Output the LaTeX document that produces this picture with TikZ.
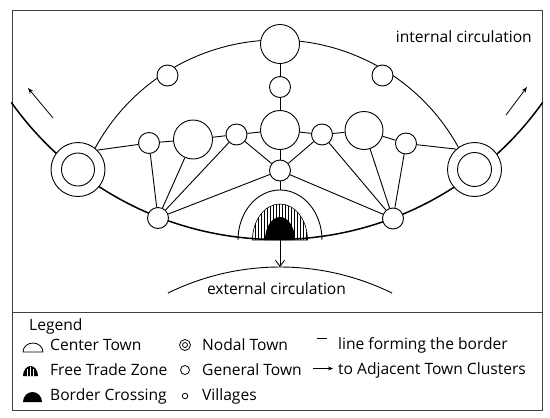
\documentclass[tikz,border=0pt]{standalone}
\usepackage{fontspec}
\setmainfont{Open Sans}
\usetikzlibrary{arrows.meta,patterns}
\begin{document}
\begin{tikzpicture}[x=1pt,y=-1pt,
  town/.style={circle,draw,fill=white,inner sep=0pt,line width=0.9pt},
  txt/.style={inner sep=0pt,font=\fontsize{15.6}{18}\selectfont},
  link/.style={line width=0.9pt},
  borderline/.style={line width=1.5pt},
  frameline/.style={line width=0.8pt,black!75},
  dirarrow/.style={line width=0.8pt,-{Stealth[length=6pt,width=4.5pt]}},
  licon/.style={circle,draw,line width=0.8pt,inner sep=0pt},
]
\useasboundingbox (0,0) rectangle (550,418);
% frame
\draw[frameline] (12,10) rectangle (542,410);
\draw[frameline] (12,312) -- (542,312);

% internal circulation arc and border line
\draw[link] (277,247) ++(206:207) arc[start angle=206,end angle=334,radius=207];
\draw[borderline] (277,-86.5) ++(144.6:326) arc[start angle=144.6,end angle=35.4,radius=326];
% external circulation arc
\draw[link] (280,521) ++(243.8:254) arc[start angle=243.8,end angle=296.2,radius=254];

% towns
\node[town,minimum size=54pt] (LT) at (78,169.5) {};
\node[town,minimum size=33pt] (LTi) at (78,169.5) {};
\node[town,minimum size=54pt] (RT) at (474.5,169.5) {};
\node[town,minimum size=34pt] (RTi) at (474.5,169.5) {};
\node[town,minimum size=39pt] (T) at (280,44) {};
\node[town,minimum size=21pt] (S1) at (280,87) {};
\node[town,minimum size=39pt] (M) at (280,130) {};
\node[town,minimum size=21pt] (S4) at (280,170.5) {};
\node[town,minimum size=21pt] (A1) at (167.5,75.5) {};
\node[town,minimum size=21pt] (A2) at (382.5,75.5) {};
\node[town,minimum size=21pt] (N1) at (149,143) {};
\node[town,minimum size=39pt] (BL) at (193,139.5) {};
\node[town,minimum size=21pt] (L2) at (236.5,134.5) {};
\node[town,minimum size=21pt] (R2) at (322,134.5) {};
\node[town,minimum size=38pt] (BR) at (364,130.5) {};
\node[town,minimum size=21pt] (N2) at (406,143.5) {};
\node[town,minimum size=21pt] (V1) at (158,218) {};
\node[town,minimum size=21pt] (V2) at (393,218.5) {};

% connectors
\draw[link] (LT.45) -- (N1);
\draw[link] (N1) -- (BL);
\draw[link] (BL) -- (L2);
\draw[link] (L2) -- (M);
\draw[link] (M) -- (R2);
\draw[link] (R2) -- (BR);
\draw[link] (BR) -- (N2);
\draw[link] (N2) -- (RT.132);
\draw[link] (T) -- (S1);
\draw[link] (S1) -- (M);
\draw[link] (M) -- (S4);
\draw[link] (V1) -- (N1);
\draw[link] (V1) -- (BL);
\draw[link] (V1) -- (L2);
\draw[link] (V1) -- (S4);
\draw[link] (L2) -- (S4);
\draw[link] (V2) -- (N2);
\draw[link] (V2) -- (BR);
\draw[link] (V2) -- (R2);
\draw[link] (V2) -- (S4);
\draw[link] (R2) -- (S4);

% border crossing complex
\coordinate (FT) at (280,190);
\coordinate (BC) at (280,240);
\coordinate (EXT) at (280,267);
\draw[link] (322,240) arc[start angle=0,end angle=-180,x radius=42,y radius=50];
\draw[line width=0.6pt,pattern=vertical lines] (307.5,240) arc[start angle=0,end angle=-180,x radius=27.5,y radius=36] -- cycle;
\fill (295,240) arc[start angle=0,end angle=-180,x radius=15,y radius=23] -- cycle;
\draw[link] (S4) -- (FT);
\draw[link,-{Straight Barb[length=6pt,width=9pt]}] (BC) -- (EXT);

% direction arrows
\coordinate (la1) at (53,118);
\coordinate (la2) at (28,88);
\coordinate (ra1) at (506,115);
\coordinate (ra2) at (527,87);
\draw[dirarrow] (la1) -- (la2);
\draw[dirarrow] (ra1) -- (ra2);

% labels
\node[txt,anchor=east] (intl) at (532,37) {internal circulation};
\node[txt] (extl) at (276.5,289) {external circulation};

% legend
\node[txt,anchor=west] (leg) at (29,326) {Legend};
\draw[line width=0.8pt] (43,352) arc[start angle=0,end angle=-180,x radius=10,y radius=9] -- cycle;
\fill (38,376) arc[start angle=0,end angle=-180,x radius=7.5,y radius=10] -- cycle;
\draw[white,line width=0.7pt] (27.5,369) -- (27.5,376) (30.5,367) -- (30.5,376) (33.5,369) -- (33.5,376);
\fill (42,402) arc[start angle=0,end angle=-180,x radius=9.5,y radius=10] -- cycle;
\node[txt,anchor=west] (lct) at (50,345) {Center Town};
\node[txt,anchor=west] (lft) at (50,370) {Free Trade Zone};
\node[txt,anchor=west] (lbc) at (50,396) {Border Crossing};

\node[licon,minimum size=11pt] (lno) at (185,345) {};
\node[licon,minimum size=5pt] (lnoi) at (185,345) {};
\node[licon,minimum size=9pt] (lge) at (185,370) {};
\node[licon,minimum size=5.5pt] (lvi) at (185,396) {};
\node[txt,anchor=west] (lnt) at (202,345) {Nodal Town};
\node[txt,anchor=west] (lgt) at (202,370) {General Town};
\node[txt,anchor=west] (lvt) at (202,396) {Villages};

\coordinate (ld1) at (317,338);
\coordinate (ld2) at (327,338);
\draw[line width=1pt] (ld1) -- (ld2);
\coordinate (lar1) at (313,368.5);
\coordinate (lar2) at (333,368.5);
\draw[line width=0.8pt,-{Stealth[length=5pt,width=4pt]}] (lar1) -- (lar2);
\node[txt,anchor=west] (lbt) at (338,345) {line forming the border};
\node[txt,anchor=west] (lat) at (338,370) {to Adjacent Town Clusters};
\end{tikzpicture}
\end{document}
